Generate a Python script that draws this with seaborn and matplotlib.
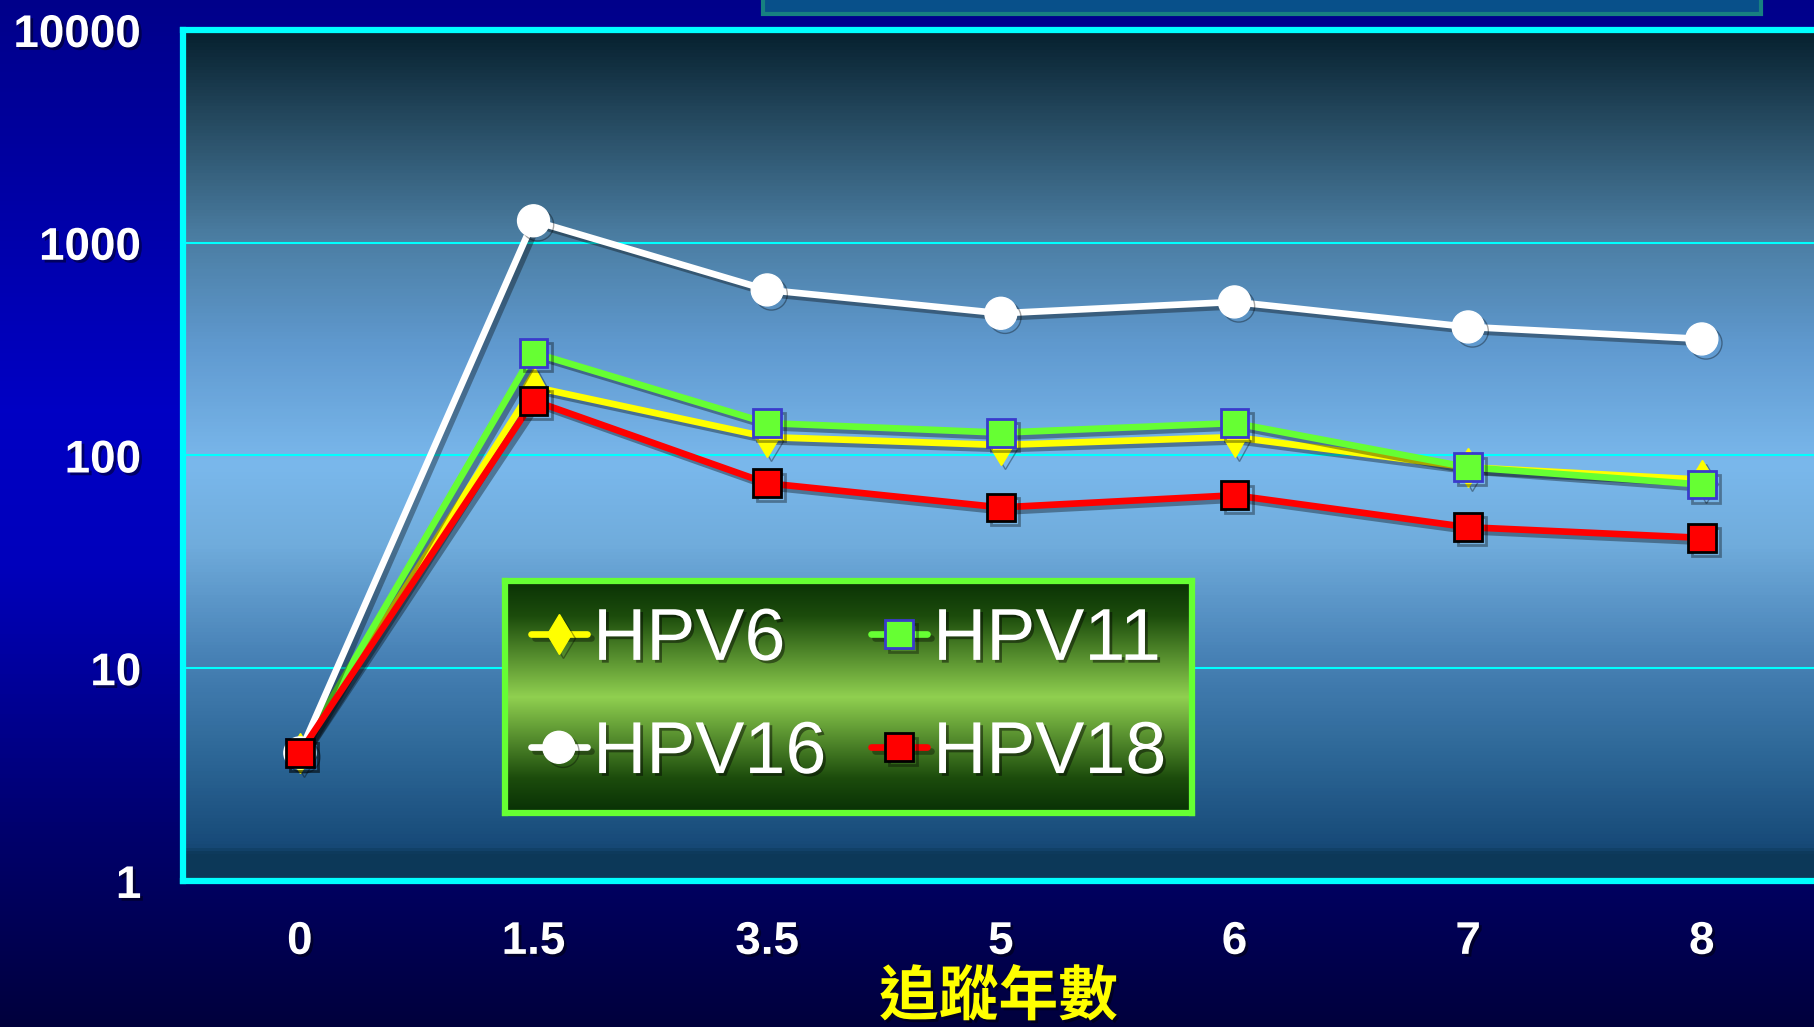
import numpy as np
import pandas as pd
import matplotlib
matplotlib.use("Agg")
import matplotlib.pyplot as plt
import matplotlib.patheffects as pe
from matplotlib.colors import LinearSegmentedColormap
from matplotlib.patches import Rectangle
from matplotlib.ticker import NullLocator
import seaborn as sns

# data
years = ["0", "1.5", "3.5", "5", "6", "7", "8"]
hpv6 = [4, 210, 122, 112, 122, 88, 77]
hpv11 = [4, 304, 142, 128, 142, 88, 73]
hpv16 = [4, 1268, 600, 466, 527, 402, 353]
hpv18 = [4, 181, 74, 57, 65, 46, 41]
y_ticks = [1, 10, 100, 1000, 10000]
x_title = "追蹤年數"

df = pd.DataFrame({"year": years, "HPV6": hpv6, "HPV11": hpv11,
                   "HPV16": hpv16, "HPV18": hpv18})

sns.set_theme(style="white")
plt.rcParams["font.family"] = ["Liberation Sans", "DejaVu Sans"]

fig = plt.figure(figsize=(18.14, 10.27), dpi=100)


def vgrad(stops):
    cmap = LinearSegmentedColormap.from_list("g", stops)
    return cmap(np.linspace(0, 1, 256))[:, None, :]


shadow = [pe.withSimplePatchShadow(offset=(2, -2), shadow_rgbFace="black", alpha=0.45)]
line_shadow = [pe.SimpleLineShadow(offset=(3, -3), shadow_color="black", alpha=0.35), pe.Normal()]

# slide background
bg = fig.add_axes([0, 0, 1, 1], zorder=-10)
bg.imshow(vgrad([(0, "#00008a"), (0.4, "#0000c4"), (0.55, "#0000bc"),
                 (0.8, "#000070"), (1.0, "#00003c")]),
          aspect="auto", extent=[0, 1, 0, 1])
bg.axis("off")

# cut-off title box at top
fig.patches.append(Rectangle((0.4206, 0.986), 0.5502, 0.03, transform=fig.transFigure,
                             facecolor="#08508a", edgecolor="#178080", lw=3))

pos = [0.1009, 0.1422, 0.8991, 0.8286]
pa = fig.add_axes(pos, zorder=-5)
pa.imshow(vgrad([(0, "#06202e"), (0.10, "#24485e"), (0.237, "#4a7ca0"),
                 (0.373, "#609ad0"), (0.51, "#7ab8ec"), (0.605, "#70acdc"),
                 (0.728, "#4a84b8"), (0.85, "#2e6898"), (0.96, "#174a78"),
                 (0.97, "#0c3858"), (1.0, "#0c3858")]),
          aspect="auto", extent=[0, 1, 0, 1])
pa.axis("off")

ax = fig.add_axes(pos, zorder=0)
ax.set_facecolor("none")

styles = {
    "HPV6": dict(color="#ffff00", marker="d", markersize=20,
                 markerfacecolor="#ffff00", markeredgecolor="#ffff00", markeredgewidth=1),
    "HPV11": dict(color="#66ff33", marker="s", markersize=20,
                  markerfacecolor="#66ff33", markeredgecolor="#3a3acc", markeredgewidth=2),
    "HPV16": dict(color="#ffffff", marker="o", markersize=23,
                  markerfacecolor="#ffffff", markeredgecolor="#ffffff", markeredgewidth=1),
    "HPV18": dict(color="#ff0000", marker="s", markersize=20,
                  markerfacecolor="#ff0000", markeredgecolor="#000000", markeredgewidth=2),
}
names = ["HPV6", "HPV11", "HPV16", "HPV18"]
for name in names:
    sns.lineplot(data=df, x="year", y=name, ax=ax, sort=False, linewidth=4.8,
                 path_effects=line_shadow, **styles[name])
if ax.get_legend() is not None:
    ax.get_legend().remove()

ax.set_yscale("log")
ax.set_ylim(1, 10000)
ax.set_xlim(-0.5, 6.48)
ax.set_xticks(range(len(years)), years)
ax.set_yticks(y_ticks, [str(v) for v in y_ticks])
ax.yaxis.set_minor_locator(NullLocator())
ax.grid(axis="y", color="#00ffff", lw=1.5)
ax.grid(axis="x", visible=False)
ax.tick_params(axis="both", length=0, labelsize=33, labelcolor="white")
ax.tick_params(axis="y", pad=30)
ax.tick_params(axis="x", pad=28)
for lbl in ax.get_xticklabels() + ax.get_yticklabels():
    lbl.set_fontweight("bold")
    lbl.set_path_effects(shadow)
for side in ["left", "top", "bottom"]:
    ax.spines[side].set_color("#00ffff")
    ax.spines[side].set_linewidth(4.5)
ax.spines["right"].set_visible(False)
ax.set_ylabel("")
ax.set_xlabel(x_title, color="#ffff00", fontsize=43, fontweight="bold", labelpad=3,
              family=["Noto Sans CJK TC", "DejaVu Sans"], path_effects=shadow)

# legend box with green gradient
lg = fig.add_axes([0.2784, 0.2084, 0.3787, 0.2259], zorder=5)
lg.imshow(vgrad([(0, "#0a3205"), (0.15, "#1c4c0c"), (0.5, "#90d050"),
                 (0.85, "#1c4c0c"), (1.0, "#083005")]),
          aspect="auto", extent=[0, 1, 0, 1])
lg.set_xticks([])
lg.set_yticks([])
for s in lg.spines.values():
    s.set_color("#66ff33")
    s.set_linewidth(4.5)
lines = ax.get_lines()[:4]
order = [0, 2, 1, 3]
leg = lg.legend([lines[i] for i in order], [names[i] for i in order], loc="center",
                ncol=2, frameon=False, fontsize=53, labelcolor="white",
                handlelength=0.77, handletextpad=0.08, columnspacing=0.6,
                labelspacing=0.6, borderaxespad=0, borderpad=0)
for t in leg.get_texts():
    t.set_path_effects(shadow)

fig.savefig("out.png", dpi=100)
